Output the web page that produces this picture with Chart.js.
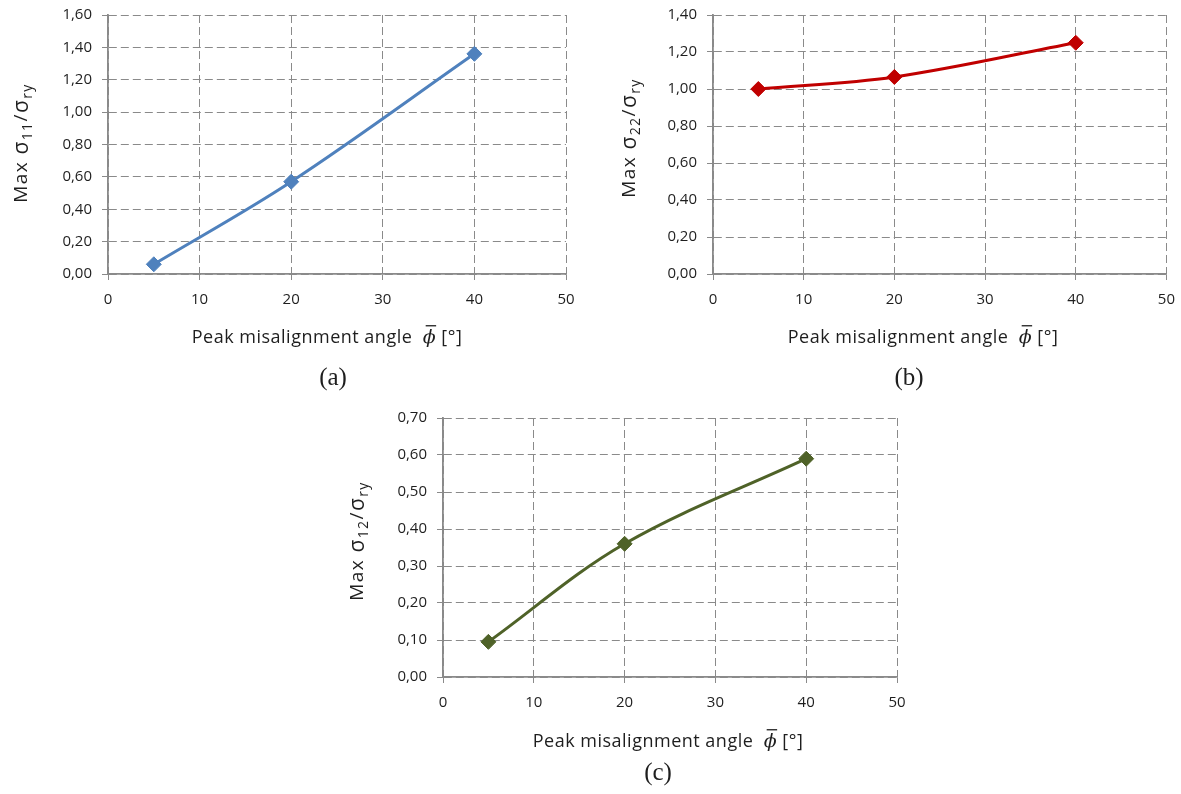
<!DOCTYPE html>
<html>
<head>
<meta charset="utf-8">
<script src="https://cdn.jsdelivr.net/npm/chart.js@4.4.1/dist/chart.umd.min.js"></script>
<style>
  html, body { margin: 0; padding: 0; background: #ffffff; }
  body { width: 1181px; height: 794px; position: relative; overflow: hidden; }
  canvas { position: absolute; }
</style>
</head>
<body>
<canvas id="chartA" width="590" height="403" style="left:0px;top:-8px"></canvas>
<canvas id="chartB" width="586" height="403" style="left:600px;top:-8px"></canvas>
<canvas id="chartC" width="600" height="399" style="left:330px;top:395px"></canvas>
<script>
// Peak misalignment angle (degrees) at which stresses were evaluated
const angles = [5, 20, 40];

// Normalised maximum stresses
const sigma11 = [0.06, 0.57, 1.36];
const sigma22 = [1.00, 1.065, 1.25];
const sigma12 = [0.095, 0.36, 0.59];

// Axis tick values
const xTickValues = [0, 10, 20, 30, 40, 50];
const yTicksA = [0, 0.2, 0.4, 0.6, 0.8, 1.0, 1.2, 1.4, 1.6];
const yTicksB = [0, 0.2, 0.4, 0.6, 0.8, 1.0, 1.2, 1.4];
const yTicksC = [0, 0.1, 0.2, 0.3, 0.4, 0.5, 0.6, 0.7];

const UI_FONT = '"Open Sans", "Noto Sans", sans-serif';
const TEXT_COLOR = '#1e1e1e';
const GRID_COLOR = '#8a8a8a';

const fmtComma = v => Number(v).toFixed(2).replace('.', ',');

// Draws a run of text pieces (with optional subscripts / overlined italic glyphs), centred on (0,0)
function drawRich(ctx, parts, size, spacing) {
  const fontFor = p => {
    if (p.sub) return `${Math.round(size * 0.72)}px ${UI_FONT}`;
    if (p.math) return `italic ${size + 1}px "DejaVu Serif", serif`;
    if (p.big) return `${size + 2}px ${UI_FONT}`;
    return `${size}px ${UI_FONT}`;
  };
  ctx.letterSpacing = spacing + 'px';
  let total = 0;
  parts.forEach(p => { ctx.font = fontFor(p); p._w = ctx.measureText(p.t).width; total += p._w; });
  let x = -total / 2;
  ctx.textBaseline = 'middle';
  ctx.textAlign = 'left';
  parts.forEach(p => {
    ctx.font = fontFor(p);
    const dy = p.sub ? size * 0.3 : 0;
    ctx.fillText(p.t, x, dy);
    if (p.over) {
      ctx.save();
      ctx.strokeStyle = ctx.fillStyle;
      ctx.lineWidth = 1.3;
      ctx.beginPath();
      ctx.moveTo(x + 3, -size * 0.68);
      ctx.lineTo(x + p._w, -size * 0.68);
      ctx.stroke();
      ctx.restore();
    }
    x += p._w;
  });
  ctx.letterSpacing = '0px';
}

const figureText = {
  id: 'figureText',
  afterDraw(chart, args, o) {
    const ctx = chart.ctx;
    const ox = o.offsetX, oy = o.offsetY;
    ctx.save();
    ctx.fillStyle = TEXT_COLOR;
    // vertical axis title
    ctx.save();
    ctx.translate(o.yTitle.x - ox, o.yTitle.y - oy);
    ctx.rotate(-Math.PI / 2);
    drawRich(ctx, o.yTitle.parts, 19, 1.4);
    ctx.restore();
    // horizontal axis title
    ctx.save();
    ctx.translate(o.xTitle.x - ox, o.xTitle.y - oy);
    drawRich(ctx, [
      { t: 'Peak misalignment angle  ' },
      { t: '\u03D5', math: true, over: true },
      { t: ' [\u00B0]' }
    ], 18, 0.5);
    ctx.restore();
    // panel caption
    ctx.font = '25px "Liberation Serif", "Times New Roman", serif';
    ctx.textAlign = 'center';
    ctx.textBaseline = 'middle';
    ctx.fillText(o.caption.t, o.caption.x - ox, o.caption.y - oy);
    ctx.restore();
  }
};

function makePanel(id, values, yTicks, color, layout, text) {
  const yMax = yTicks[yTicks.length - 1];
  return new Chart(document.getElementById(id), {
    type: 'scatter',
    data: {
      datasets: [{
        data: angles.map((a, i) => ({ x: a, y: values[i] })),
        showLine: true,
        borderColor: color,
        backgroundColor: color,
        borderWidth: 3,
        tension: 0.35,
        pointStyle: 'rectRot',
        pointRadius: 7.5,
        pointBorderWidth: 1,
        pointBorderColor: color,
        pointBackgroundColor: color
      }]
    },
    options: {
      responsive: false,
      animation: false,
      devicePixelRatio: 1,
      layout: { padding: layout.padding },
      plugins: {
        legend: { display: false },
        tooltip: { enabled: false },
        figureText: text
      },
      scales: {
        x: {
          type: 'linear',
          min: 0, max: 50,
          afterBuildTicks: s => { s.ticks = xTickValues.map(v => ({ value: v })); },
          afterFit: s => { s.height = 40; },
          grid: { color: GRID_COLOR, lineWidth: 1, tickLength: 6, tickColor: GRID_COLOR, tickBorderDash: [] },
          border: { color: GRID_COLOR, width: 1.8, dash: [8, 4] },
          ticks: { color: TEXT_COLOR, padding: 11, font: { family: UI_FONT, size: 15 }, maxRotation: 0 }
        },
        y: {
          min: 0, max: yMax,
          afterBuildTicks: s => { s.ticks = yTicks.map(v => ({ value: v })); },
          afterFit: s => { s.width = layout.yAxisWidth; },
          grid: { color: GRID_COLOR, lineWidth: 1, tickLength: 6, tickColor: GRID_COLOR, tickBorderDash: [] },
          border: { color: GRID_COLOR, width: 1.8, dash: [8, 4] },
          ticks: { color: TEXT_COLOR, padding: 10, font: { family: UI_FONT, size: 15 }, callback: v => fmtComma(v) }
        }
      }
    },
    plugins: [figureText]
  });
}

makePanel('chartA', sigma11, yTicksA, '#4F81BD',
  { yAxisWidth: 108, padding: { left: 0, top: 23, right: 24, bottom: 81 } },
  {
    offsetX: 0, offsetY: -8,
    yTitle: { x: 22, y: 143, parts: [{ t: 'Max ' }, { t: '\u03C3', big: true }, { t: '11', sub: true }, { t: '/' }, { t: '\u03C3', big: true }, { t: 'ry', sub: true }] },
    xTitle: { x: 327, y: 338 },
    caption: { t: '(a)', x: 333, y: 378 }
  });

makePanel('chartB', sigma22, yTicksB, '#C00000',
  { yAxisWidth: 113, padding: { left: 0, top: 23, right: 10, bottom: 81 } },
  {
    offsetX: 600, offsetY: -8,
    yTitle: { x: 630, y: 138, parts: [{ t: 'Max ' }, { t: '\u03C3', big: true }, { t: '22', sub: true }, { t: '/' }, { t: '\u03C3', big: true }, { t: 'ry', sub: true }] },
    xTitle: { x: 923, y: 338 },
    caption: { t: '(b)', x: 909, y: 378 }
  });

makePanel('chartC', sigma12, yTicksC, '#4F6228',
  { yAxisWidth: 113, padding: { left: 0, top: 23, right: 33, bottom: 77 } },
  {
    offsetX: 330, offsetY: 395,
    yTitle: { x: 358, y: 541, parts: [{ t: 'Max ' }, { t: '\u03C3', big: true }, { t: '12', sub: true }, { t: '/' }, { t: '\u03C3', big: true }, { t: 'ry', sub: true }] },
    xTitle: { x: 668, y: 742 },
    caption: { t: '(c)', x: 658, y: 773 }
  });
</script>
</body>
</html>
